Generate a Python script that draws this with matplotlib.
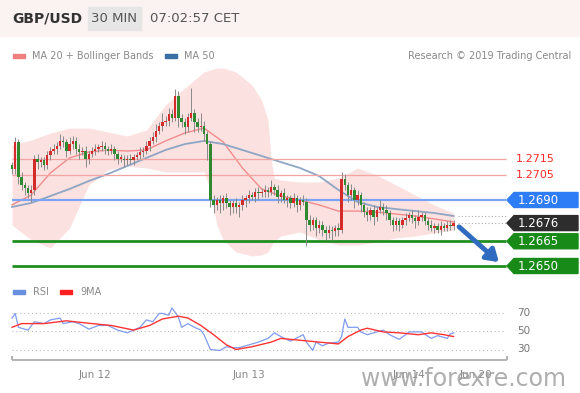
import numpy as np
import matplotlib
matplotlib.use('Agg')
import matplotlib.pyplot as plt
from matplotlib.patches import Polygon, Rectangle

# prezzi in pip sopra 1.2600 (candele da 30 minuti)
base = 1.2600
open0 = 111
close_p = [109, 125, 104, 99, 97, 94, 96, 115, 113, 114,
           111, 117, 120, 121, 123, 126, 125, 120, 124, 126,
           121, 119, 120, 115, 118, 120, 121, 122, 123, 121,
           120, 121, 118, 115, 115, 114, 115, 114, 116, 117,
           119, 120, 123, 126, 128, 132, 135, 137, 138, 142,
           140, 153, 140, 137, 134, 140, 143, 137, 134, 135,
           130, 124, 90, 87, 90, 88, 91, 88, 86, 88,
           86, 87, 90, 91, 93, 92, 95, 94, 95, 96,
           95, 98, 96, 92, 94, 90, 91, 88, 91, 87,
           90, 89, 78, 75, 78, 73, 75, 72, 70, 72,
           71, 73, 72, 103, 99, 93, 96, 90, 93, 87,
           83, 81, 84, 80, 84, 86, 84, 82, 78, 75,
           77, 75, 78, 79, 81, 79, 77, 80, 81, 77,
           75, 73, 74, 72, 74, 73, 75, 74, 76]
up_wick = [2, 3, 2, 3, 2, 2, 3, 2, 3, 2,
           2, 3, 2, 3, 2, 4, 3, 2, 4, 3,
           2, 3, 2, 3, 2, 2, 3, 2, 3, 2,
           2, 3, 2, 2, 3, 2, 2, 3, 2, 2,
           3, 2, 3, 2, 3, 4, 2, 6, 3, 4,
           3, 4, 3, 2, 3, 3, 15, 2, 3, 8,
           3, 2, 2, 3, 2, 3, 2, 3, 2, 2,
           3, 2, 3, 2, 3, 2, 2, 3, 2, 3,
           2, 4, 2, 3, 2, 3, 2, 2, 3, 2,
           2, 3, 2, 3, 2, 2, 3, 2, 2, 3,
           2, 2, 3, 4, 3, 2, 4, 2, 3, 2,
           2, 3, 2, 3, 2, 4, 2, 3, 2, 2,
           3, 2, 2, 3, 2, 3, 2, 4, 2, 2,
           2, 3, 2, 2, 3, 2, 2, 3, 2]
low_wick = [3, 3, 4, 3, 4, 3, 5, 3, 4, 3,
            3, 2, 3, 2, 3, 2, 3, 4, 2, 3,
            3, 4, 2, 5, 3, 2, 3, 2, 2, 3,
            3, 2, 4, 3, 2, 4, 3, 2, 3, 2,
            2, 3, 2, 3, 2, 3, 2, 3, 2, 3,
            3, 2, 6, 3, 4, 3, 2, 6, 3, 2,
            4, 10, 4, 5, 3, 6, 4, 3, 5, 4,
            4, 6, 3, 4, 3, 2, 3, 4, 2, 3,
            3, 2, 3, 4, 3, 2, 4, 3, 2, 4,
            3, 2, 16, 4, 3, 5, 3, 4, 4, 3,
            5, 3, 4, 2, 3, 4, 3, 5, 3, 4,
            3, 4, 3, 5, 3, 2, 3, 4, 3, 4,
            3, 4, 2, 3, 2, 3, 4, 2, 3, 2,
            3, 2, 3, 2, 3, 2, 2, 2, 2]

# medie mobili (ogni 6 candele)
ma_idx = list(range(0, 139, 6))
ma20 = [87.0, 93.0, 106.4, 115.5, 119.1, 120.3, 119.7, 120.3, 125.8, 130.6, 133.6, 125.2,
        109.4, 96.7, 92.4, 90.0, 87.0, 83.3, 83.3, 82.7, 81.5, 80.3, 78.5, 76.7]
ma50 = [85.8, 88.2, 92.4, 96.7, 101.5, 105.8, 110.6, 115.5, 120.3, 123.9, 125.8, 123.9,
        120.3, 116.7, 113.0, 109.4, 104.5, 96.1, 88.8, 85.8, 84.5, 83.3, 82.1, 80.3]

band_idx = [0, 6, 12, 18, 24, 30, 36, 42, 48, 54, 60, 62, 64, 66, 70,
            75, 78, 80, 81, 82, 84, 90, 96, 102, 108, 114, 120, 126, 132, 138]
band_up = [123.3, 126.4, 130.6, 133.6, 133.6, 131.2, 128.8, 132.4, 147.6, 157.9, 167.6, 168.8, 170.0, 170.0, 167.6,
           159.7, 150.6, 138.5, 114.2, 103.3, 102.1, 100.9, 100.9, 103.3, 109.4, 105.2, 99.1, 93.0, 87.0, 82.1]
band_lo = [74.8, 65.8, 60.9, 73.0, 99.1, 108.2, 110.6, 109.4, 107.0, 107.0, 107.0, 96.1, 74.8, 65.8, 58.5,
           56.1, 56.7, 58.5, 62.1, 65.2, 68.2, 70.6, 65.8, 62.7, 62.7, 64.5, 67.0, 68.2, 70.0, 71.8]

rsi_idx = [0, 1, 2, 5, 7, 10, 12, 15, 16, 19, 21, 24, 27, 30, 33, 36, 38, 40, 42, 44,
           46, 47, 49, 50, 52, 53, 55, 57, 59, 60, 62, 65, 67, 69, 71, 74, 77, 80, 82, 84,
           87, 91, 92, 94, 95, 97, 99, 102, 103, 104, 105, 108, 109, 111, 114, 116, 118, 121, 123, 124,
           128, 131, 133, 136, 137, 138]
rsi = [64, 69, 54, 51, 60, 58, 62, 64, 58, 60, 58, 52, 56, 56, 51, 48, 51, 54, 62, 60,
       69, 69, 67, 75, 65, 54, 58, 54, 51, 46, 30, 29, 33, 32, 32, 35, 38, 42, 48, 44,
       39, 46, 38, 29, 38, 34, 37, 38, 44, 63, 54, 54, 49, 46, 49, 51, 46, 41, 46, 49,
       49, 42, 45, 42, 47, 48]
rsi_ma_idx = [0, 3, 10, 17, 25, 31, 38, 43, 47, 52, 55, 59, 63, 67, 70,
              75, 81, 84, 87, 93, 102, 105, 109, 111, 116, 121, 127, 131, 135, 138]
rsi_ma = [54, 58, 58, 61, 58, 56, 51, 56, 63, 66, 64, 56, 46, 35, 30,
          33, 38, 42, 41, 39, 36, 44, 51, 53, 49, 48, 46, 48, 46, 44]

livelli = [1.2715, 1.2705, 1.2690, 1.2676, 1.2665, 1.2650]
tick_pos = [26, 74, 124, 145]
tick_lab = ['Jun 12', 'Jun 13', 'Jun 14', 'Jun 20']

# conversioni pixel -> coordinate (solo impaginazione)
W, H = 580, 393
def px_x(px): return (px - 12) / 3.2
def px_p(py): return 90 + (200 - py) / 1.65
def px_r(py): return 50 + (331 - py) / 0.925
def fx(px): return px / W
def fy(py): return 1 - py / H
def pip(l): return (l - base) * 1e4

fig = plt.figure(figsize=(5.8, 3.93), dpi=100, facecolor='white')

# intestazione
fig.patches.append(Rectangle((0, fy(36)), 1, 36 / H, transform=fig.transFigure, color='#fbf2f2', zorder=0))
fig.text(fx(12), fy(18), 'GBP/USD', fontsize=10, fontweight='bold', color='#333333', va='center')
fig.patches.append(Rectangle((fx(88), fy(30)), 53 / W, 23 / H, transform=fig.transFigure, color='#e6e6e6'))
fig.text(fx(114), fy(18), '30 MIN', fontsize=9.5, color='#555555', va='center', ha='center')
fig.text(fx(150), fy(18), '07:02:57 CET', fontsize=9.5, color='#555555', va='center')

fig.patches.append(Rectangle((fx(13), fy(58)), 12 / W, 4 / H, transform=fig.transFigure, color='#f08080'))
fig.text(fx(32), fy(56), 'MA 20 + Bollinger Bands', fontsize=7, color='#888888', va='center')
fig.patches.append(Rectangle((fx(165), fy(58)), 12 / W, 4 / H, transform=fig.transFigure, color='#3a6ea5'))
fig.text(fx(184), fy(56), 'MA 50', fontsize=7, color='#888888', va='center')
fig.text(fx(571), fy(56), 'Research \u00a9 2019 Trading Central', fontsize=7, color='#888888', va='center', ha='right')

# grafico prezzi
ax = fig.add_axes([fx(5), fy(275), 575 / W, 210 / H])
ax.set_xlim(px_x(5), px_x(580))
ax.set_ylim(px_p(275), px_p(65))
ax.axis('off')

ax.fill_between(band_idx, band_lo, band_up, color='#fbcaca', alpha=0.55, lw=0, zorder=1)
ax.plot(ma_idx, ma20, color='#f28b8b', lw=1, zorder=2)
ax.plot(ma_idx, ma50, color='#8ea6c4', lw=1.3, zorder=2)

c = np.array(close_p, dtype=float)
o = np.r_[open0, c[:-1]]
x = np.arange(len(c))
h = np.maximum(o, c) + np.array(up_wick)
l = np.minimum(o, c) - np.array(low_wick)
col = np.where(c >= o, '#d42a2a', '#2f8a2f')
ax.vlines(x, l, h, color='#8a8a8a', lw=0.7, zorder=3)
ax.bar(x, np.maximum(np.abs(c - o), 0.9), bottom=np.minimum(o, c), width=0.75, color=col, zorder=4)

x0, x1 = px_x(12), px_x(506)
hh = 7.5 / 1.65
for lv in livelli[:2]:
    ax.hlines(pip(lv), x0, x1, color='#f4a3a3', lw=0.9, zorder=2)
    ax.text(px_x(516), pip(lv), f'{lv:.4f}', color='#ff2a2a', fontsize=8, va='center')
ax.hlines(pip(livelli[2]), x0, x1, color='#7aa4f4', lw=1.6, zorder=2)
for lv in livelli[4:]:
    ax.hlines(pip(lv), x0, x1, color='#1f8f1f', lw=2, zorder=2)
ax.hlines([pip(livelli[3]), ma50[-1]], px_x(458), x1, color='#aaaaaa', lw=0.8, linestyles=(0, (1, 2)), zorder=2)

box_col = {1.2690: '#2e7cf6', 1.2676: '#2d2d2d', 1.2665: '#178a17', 1.2650: '#178a17'}
for lv, cc in box_col.items():
    y = pip(lv)
    pts = [(px_x(507), y), (px_x(514), y + hh), (px_x(578), y + hh), (px_x(578), y - hh), (px_x(514), y - hh)]
    ax.add_patch(Polygon(pts, closed=True, color=cc, zorder=5))
    ax.text(px_x(518), y, f'{lv:.4f}', color='white', fontsize=8.5, va='center', zorder=6)

ax.annotate('', xy=(px_x(501), px_p(264)), xytext=(px_x(457), px_p(225)),
            arrowprops=dict(arrowstyle='-|>,head_width=0.45,head_length=0.7', lw=3.5, color='#2f6cbf'), zorder=6)

# RSI
fig.patches.append(Rectangle((fx(13), fy(294)), 12 / W, 4 / H, transform=fig.transFigure, color='#6a8fe0'))
fig.text(fx(33), fy(292), 'RSI', fontsize=7, color='#888888', va='center')
fig.patches.append(Rectangle((fx(60), fy(294)), 12 / W, 4 / H, transform=fig.transFigure, color='#ff2020'))
fig.text(fx(80), fy(292), '9MA', fontsize=7, color='#888888', va='center')

ax2 = fig.add_axes([fx(5), fy(370), 575 / W, 75 / H])
ax2.set_xlim(px_x(5), px_x(580))
ax2.set_ylim(px_r(370), px_r(295))
ax2.axis('off')

for v in [30, 50, 70]:
    ax2.hlines(v, x0, px_x(505), color='#bbbbbb', lw=0.8, linestyles=(0, (1, 2.5)))
    ax2.text(px_x(517), v, str(v), fontsize=7.5, color='#777777', va='center')
ax2.plot(rsi_idx, rsi, color='#7f9cf0', lw=0.9)
ax2.plot(rsi_ma_idx, rsi_ma, color='#ff3333', lw=1)

y_ax = px_r(360)
ax2.hlines(y_ax, x0, px_x(507), color='#b5b5b5', lw=1.5)
ax2.vlines([x0, px_x(507)], y_ax, px_r(356), color='#b5b5b5', lw=1.5)
for p, t in zip(tick_pos, tick_lab):
    ax2.text(p, px_r(375), t, fontsize=7.5, color='#888888', ha='center', va='center')

# filigrana sopra le etichette, come nell'originale
fig.text(fx(463), fy(379), 'www.forexre.com', fontsize=17, color='#9a9a9a', ha='center', va='center', alpha=0.8)

fig.savefig('out.png', dpi=100)
